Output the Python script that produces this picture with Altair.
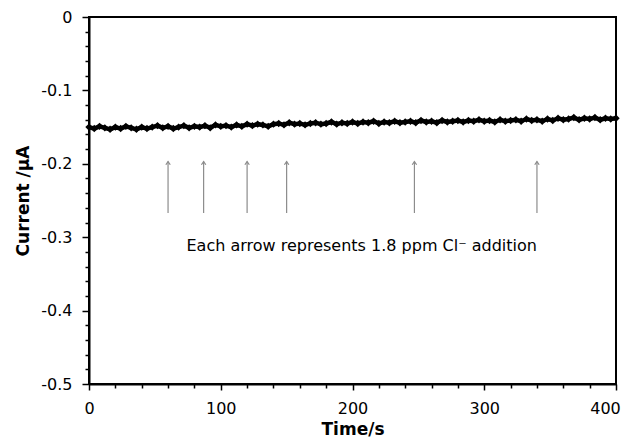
import altair as alt
import pandas as pd

# time (s) sampled every 4 s
time_s = list(range(0, 401, 4))
current_uA = [
    -0.150, -0.152, -0.149, -0.151, -0.153, -0.150, -0.152, -0.149, -0.151, -0.153, -0.150,
    -0.152, -0.150, -0.148, -0.151, -0.149, -0.152, -0.150, -0.148, -0.151, -0.149,
    -0.150, -0.148, -0.151, -0.147, -0.149, -0.148, -0.150, -0.147, -0.149, -0.146,
    -0.148, -0.146, -0.147, -0.149, -0.146, -0.145, -0.147, -0.144, -0.146, -0.145,
    -0.147, -0.145, -0.144, -0.146, -0.145, -0.143, -0.146, -0.144, -0.145, -0.143,
    -0.145, -0.143, -0.144, -0.142, -0.145, -0.143, -0.144, -0.142, -0.144, -0.143,
    -0.142, -0.144, -0.141, -0.143, -0.142, -0.144, -0.141, -0.143, -0.142, -0.141,
    -0.143, -0.141, -0.142, -0.140, -0.142, -0.141, -0.143, -0.140, -0.142, -0.141,
    -0.140, -0.142, -0.139, -0.141, -0.140, -0.142, -0.139, -0.141, -0.138, -0.140,
    -0.139, -0.137, -0.140, -0.138, -0.139, -0.137, -0.140, -0.138, -0.139, -0.138,
]

arrow_times = [60, 87, 120, 150, 247, 340]
arrow_base = [-0.267] * len(arrow_times)
arrow_tip = [-0.197] * len(arrow_times)

note_text = ["Each arrow represents 1.8 ppm Cl\u207b addition"]
note_x = [74]
note_y = [-0.312]

x_tick_values = list(range(0, 401, 20))
y_tick_values = [round(-0.02 * i, 2) for i in range(0, 26)]

df = pd.DataFrame({"t": time_s, "i": current_uA})
arrows = pd.DataFrame({"t": arrow_times, "y0": arrow_base, "y1": arrow_tip})
notes = pd.DataFrame({"t": note_x, "y": note_y, "label": note_text})

FONT = "DejaVu Sans"

xscale = alt.Scale(domain=[0, 400], nice=False, zero=False)
yscale = alt.Scale(domain=[-0.5, 0], nice=False, zero=False)

y_major = "abs(datum.value*10 - round(datum.value*10)) < 0.001"

xaxis = alt.Axis(
    title="Time/s",
    values=x_tick_values,
    tickCount=100,
    labelExpr="datum.value % 100 == 0 ? format(datum.value, 'd') : ''",
    labelOverlap=False,
    labelFlush=False,
    labelOffset={"condition": {"test": "datum.value == 400", "value": -11}, "value": 0},
    grid=False,
    tickSize={"condition": {"test": "datum.value % 100 == 0", "value": 6}, "value": 4},
    tickColor="black",
    tickWidth=1.5,
    domainColor="black",
    domainWidth=2,
    labelFont=FONT,
    labelFontSize=16,
    labelColor="black",
    labelPadding=10,
    titleFont=FONT,
    titleFontSize=17,
    titleFontWeight="bold",
    titleColor="black",
    titlePadding=5,
)

yaxis = alt.Axis(
    title="Current /\u00b5A",
    values=y_tick_values,
    tickCount=100,
    labelExpr=y_major + " ? (datum.value == 0 ? '0' : replace(format(datum.value, '.1f'), '\u2212', '-')) : ''",
    labelOverlap=False,
    labelFlush=False,
    grid=False,
    tickSize={"condition": {"test": y_major, "value": 7}, "value": 4},
    tickColor="black",
    tickWidth=1.5,
    domainColor="black",
    domainWidth=2,
    labelFont=FONT,
    labelFontSize=16,
    labelColor="black",
    labelPadding=10,
    titleFont=FONT,
    titleFontSize=17,
    titleFontWeight="bold",
    titleColor="black",
    titlePadding=8,
)

base = alt.Chart(df)

line = base.mark_line(color="black", strokeWidth=4.5).encode(
    x=alt.X("t:Q", scale=xscale, axis=xaxis),
    y=alt.Y("i:Q", scale=yscale, axis=yaxis),
)
pts = base.mark_point(shape="diamond", filled=True, color="black", size=55, opacity=1).encode(
    x="t:Q", y="i:Q"
)

shafts = alt.Chart(arrows).mark_rule(color="#8c8c8c", strokeWidth=1.2).encode(
    x="t:Q", y="y0:Q", y2="y1:Q"
)
heads = alt.Chart(arrows).mark_point(
    shape="M -0.7 1 L 0 0 L 0.7 1", filled=False, color="#8c8c8c", strokeWidth=1.2, size=40, opacity=1
).encode(x="t:Q", y="y1:Q")

note = alt.Chart(notes).mark_text(
    align="left", baseline="middle", font=FONT, fontSize=16, color="black"
).encode(x="t:Q", y="y:Q", text="label:N")

chart = alt.layer(line, pts, shafts, heads, note).properties(
    width=527,
    height=367,
    autosize="none",
    padding={"left": 81, "top": 9, "right": 7, "bottom": 56},
).configure_view(stroke="black", strokeWidth=2)

chart.save("out.html", embed_options={"renderer": "svg", "actions": False})
